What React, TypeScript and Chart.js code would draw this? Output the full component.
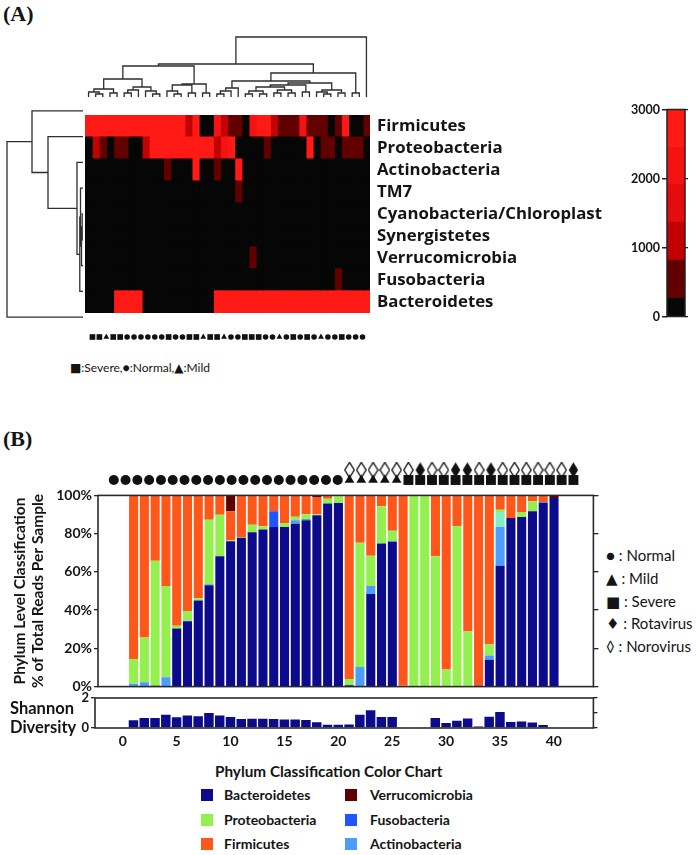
import React, { useEffect, useRef } from "react";
import { Chart, registerables } from "chart.js";

Chart.register(...registerables);

const SANS = "Lato, 'Open Sans', 'DejaVu Sans', sans-serif";
const WIDE = "'Open Sans', Lato, 'DejaVu Sans', sans-serif";
const SERIF = "'Liberation Serif', 'DejaVu Serif', serif";
const INK = "#141414";
Chart.defaults.font.family = SANS;
Chart.defaults.color = INK;

// ======================= Panel A data =======================
const HEAT_PHYLA = ["Firmicutes", "Proteobacteria", "Actinobacteria", "TM7", "Cyanobacteria/Chloroplast", "Synergistetes", "Verrucomicrobia", "Fusobacteria", "Bacteroidetes"];
const HEAT_COLUMNS = [1, 2, 3, 4, 5, 6, 7, 8, 9, 10, 11, 12, 13, 14, 15, 16, 17, 18, 19, 20, 21, 22, 23, 24, 25, 26, 27, 28, 29, 30, 31, 32, 33, 34, 35, 36, 37, 38, 39, 40];

const READS_FIRMICUTES = [2700, 2700, 2700, 2700, 2700, 2700, 2700, 2700, 2700, 2700, 2700, 2700, 2700, 2700, 1100, 2700, 50, 50, 2100, 1100, 500, 500, 50, 2100, 2700, 2700, 1100, 500, 500, 500, 2100, 500, 500, 500, 50, 500, 2700, 50, 50, 500];
const READS_PROTEOBACTERIA = [50, 1100, 700, 50, 500, 500, 50, 50, 1100, 2700, 2700, 2700, 2700, 2700, 2700, 2700, 2700, 2700, 1100, 2100, 2700, 50, 50, 50, 50, 500, 50, 50, 50, 50, 50, 2700, 50, 500, 500, 50, 500, 500, 500, 50];
const READS_ACTINOBACTERIA = [0, 0, 0, 0, 0, 0, 0, 0, 0, 0, 0, 500, 0, 0, 0, 2700, 0, 0, 500, 0, 0, 2700, 0, 0, 0, 0, 0, 0, 0, 0, 0, 0, 0, 0, 0, 0, 0, 0, 0, 0];
const READS_TM7 = [0, 0, 0, 0, 0, 0, 0, 0, 0, 0, 0, 0, 0, 0, 0, 0, 0, 0, 0, 0, 0, 500, 0, 0, 0, 0, 0, 0, 0, 0, 0, 0, 0, 0, 0, 0, 0, 0, 0, 0];
const READS_CYANOBACTERIA = [0, 0, 0, 0, 0, 0, 0, 0, 0, 0, 0, 0, 0, 0, 0, 0, 0, 0, 0, 0, 0, 0, 0, 0, 0, 0, 0, 0, 0, 0, 0, 0, 0, 0, 0, 0, 0, 0, 0, 0];
const READS_SYNERGISTETES = [0, 0, 0, 0, 0, 0, 0, 0, 0, 0, 0, 0, 0, 0, 0, 0, 0, 0, 0, 0, 0, 0, 0, 0, 0, 0, 0, 0, 0, 0, 0, 0, 0, 0, 0, 0, 0, 0, 0, 0];
const READS_VERRUCOMICROBIA = [0, 0, 0, 0, 0, 0, 0, 0, 0, 0, 0, 0, 0, 0, 0, 0, 0, 0, 0, 0, 0, 0, 0, 500, 0, 0, 0, 0, 0, 0, 0, 0, 0, 0, 0, 0, 0, 0, 0, 0];
const READS_FUSOBACTERIA = [0, 0, 0, 0, 0, 0, 0, 0, 0, 0, 0, 0, 0, 0, 0, 0, 0, 0, 0, 0, 0, 0, 0, 0, 0, 0, 0, 0, 0, 0, 0, 0, 0, 0, 0, 500, 0, 0, 0, 0];
const READS_BACTEROIDETES = [0, 0, 0, 0, 2700, 2700, 2700, 2700, 0, 0, 0, 0, 0, 0, 0, 0, 0, 0, 2700, 2700, 2700, 2700, 2700, 2700, 2700, 2700, 2700, 2700, 2700, 2700, 2700, 2700, 2700, 2700, 2700, 2700, 2700, 2700, 2700, 2700];

const HEAT_ROWS = [READS_FIRMICUTES, READS_PROTEOBACTERIA, READS_ACTINOBACTERIA, READS_TM7, READS_CYANOBACTERIA, READS_SYNERGISTETES, READS_VERRUCOMICROBIA, READS_FUSOBACTERIA, READS_BACTEROIDETES];

const COLORBAR_STEPS = [0, 264, 816, 1368, 1920, 2448, 3000];
const COLORBAR_COLORS = ["#060606", "#620000", "#c20202", "#e40c0c", "#f51212", "#ff1a16"];
const COLORBAR_TICK_STEP = 1000;

// S = Severe, N = Normal, M = Mild
const SEVERITY_A = ["S", "S", "M", "S", "S", "N", "N", "N", "N", "N", "N", "S", "N", "N", "S", "S", "M", "S", "S", "M", "N", "N", "S", "S", "S", "N", "N", "M", "N", "S", "N", "S", "N", "M", "N", "N", "S", "N", "N", "N"];

// dendrogram merges: [left, right, height]; leaves are column numbers (1..40) / row indices (0..8); merge k is id 100+k
const TOP_TREE: [number, number, number][] = [
  [2, 3, 3], [1, 100, 5], [4, 5, 4], [101, 102, 8],
  [6, 7, 4], [104, 8, 7], [10, 11, 3], [9, 106, 6], [105, 107, 10], [103, 108, 18],
  [13, 14, 3], [12, 110, 6], [15, 16, 4], [111, 112, 12], [17, 18, 4], [113, 114, 13], [109, 115, 31],
  [19, 20, 3], [117, 21, 6], [118, 22, 9],
  [23, 24, 3], [25, 26, 3], [120, 121, 6], [27, 28, 4], [29, 30, 4], [123, 124, 7], [122, 125, 10],
  [31, 32, 5], [126, 127, 12], [34, 35, 3], [33, 129, 5], [36, 37, 4], [130, 131, 7], [128, 132, 14],
  [119, 133, 16], [38, 39, 4], [134, 135, 24], [116, 136, 33], [137, 40, 60],
];
const LEFT_TREE: [number, number, number][] = [
  [4, 5, 0.8], [100, 6, 1.5], [3, 101, 2.5], [102, 7, 3.2], [2, 103, 6], [1, 104, 35], [0, 105, 51], [106, 8, 76],
];

// ======================= Panel B data =======================
const SAMPLE_IDS = [1, 2, 3, 4, 5, 6, 7, 8, 9, 10, 11, 12, 13, 14, 15, 16, 17, 18, 19, 20, 21, 22, 23, 24, 25, 26, 27, 28, 29, 30, 31, 32, 33, 34, 35, 36, 37, 38, 39, 40];
const BACTEROIDETES = [0, 0, 0.5, 0, 30.4, 34.2, 45, 53, 68.2, 76, 77.8, 80.7, 82.1, 83.5, 83.5, 85.2, 87, 89.6, 95.7, 96, 0.7, 0, 48.4, 74.8, 75.7, 0, 0, 0, 0.3, 0, 0, 0.3, 0.5, 14.1, 63.2, 88.2, 88.7, 91.7, 96.2, 98.6];
const FUSOBACTERIA = [0, 0, 0, 0, 0, 0, 0, 0, 0, 0, 0, 0, 0, 8.2, 0, 0, 0, 0, 0, 0, 0, 0, 0, 0, 0, 0, 0, 0, 0, 0, 0, 0, 0, 0, 0, 0, 0, 0, 0, 0];
const ACTINOBACTERIA = [1.5, 2.3, 0, 4.9, 0, 0.3, 0, 0.5, 0, 0, 0, 0, 0, 0, 0, 1.8, 0.7, 0, 0, 0, 0, 10.2, 4.2, 0, 0.4, 0, 0, 0, 0, 0, 0, 0, 0, 2.2, 20.3, 0, 0, 0, 0.4, 0];
const OTHER = [0, 0, 0, 0, 0, 0, 0, 0, 0, 0, 0, 0, 0, 0, 0, 0, 0, 0, 0, 0, 0, 0, 0, 0, 0, 0, 0, 0, 0, 0, 0, 0, 0, 0, 7.8, 0, 0, 0, 0, 0];
const PROTEOBACTERIA = [13, 23.4, 65.3, 47.7, 1.4, 5, 1.2, 33.8, 21.7, 0.6, 0.4, 4, 1.8, 0, 2.1, 1.8, 2.4, 0.5, 2.6, 3.5, 3.3, 65.1, 15.8, 19.5, 5.4, 0.5, 100, 100, 67.9, 8.9, 84, 28.5, 0, 5.9, 1.2, 0, 2.6, 5.2, 0, 0];
const FIRMICUTES = [85.5, 74.3, 34.2, 47.4, 68.2, 60.5, 53.8, 12.7, 10.1, 15.1, 21.8, 15.3, 16.1, 8.3, 14.4, 11.2, 9.9, 9, 1.7, 0.5, 96, 24.7, 31.6, 5.7, 18.5, 99.5, 0, 0, 31.8, 91.1, 16, 71.2, 99.5, 77.8, 7.5, 11.8, 8.7, 3.1, 3.4, 0];
const VERRUCOMICROBIA = [0, 0, 0, 0, 0, 0, 0, 0, 0, 8.3, 0, 0, 0, 0, 0, 0, 0, 0.9, 0, 0, 0, 0, 0, 0, 0, 0, 0, 0, 0, 0, 0, 0, 0, 0, 0, 0, 0, 0, 0, 1.4];
const SHANNON = [0.51, 0.67, 0.67, 0.89, 0.71, 0.84, 0.78, 1.0, 0.84, 0.73, 0.6, 0.62, 0.62, 0.6, 0.56, 0.56, 0.53, 0.38, 0.22, 0.22, 0.24, 0.89, 1.18, 0.73, 0.73, 0.05, 0.05, 0.05, 0.67, 0.33, 0.49, 0.64, 0.1, 0.75, 1.07, 0.4, 0.44, 0.36, 0.2, 0.05];
const SEVERITY_B = ["N", "N", "N", "N", "N", "N", "N", "N", "N", "N", "N", "N", "N", "N", "N", "N", "N", "N", "N", "N", "M", "M", "M", "M", "M", "S", "S", "S", "S", "S", "S", "S", "S", "S", "S", "S", "S", "S", "S", "S"];
// R = Rotavirus, V = Norovirus, "" = none
const VIRUS_B = ["", "", "", "", "", "", "", "", "", "", "", "", "", "", "", "", "", "", "", "", "V", "V", "V", "V", "V", "V", "R", "V", "V", "R", "R", "V", "R", "V", "V", "V", "V", "V", "V", "R"];

const SHANNON_TICK_STEP = 5;
const PCT_TICK_STEP = 20;

const COLORS: Record<string, string> = {
  Bacteroidetes: "#0b0b8c",
  Fusobacteria: "#1f55ff",
  Actinobacteria: "#4b9dff",
  Other: "#80f0c4",
  Proteobacteria: "#93f04f",
  Firmicutes: "#ff5619",
  Verrucomicrobia: "#5c0000",
};
const LEGEND_COL1 = ["Bacteroidetes", "Proteobacteria", "Firmicutes"];
const LEGEND_COL2 = ["Verrucomicrobia", "Fusobacteria", "Actinobacteria"];

// ======================= helpers =======================
type Box = { left: number; top: number; width: number; height: number };

const framePlugin = {
  id: "frame",
  afterDatasetsDraw(chart: any, _a: any, opts: any) {
    if (!opts || !opts.width) return;
    const { ctx, chartArea: a } = chart;
    ctx.save();
    ctx.strokeStyle = opts.color || "#222";
    ctx.lineWidth = opts.width;
    ctx.strokeRect(a.left, a.top, a.right - a.left, a.bottom - a.top);
    ctx.restore();
  },
};

const underlayPlugin = {
  id: "underlay",
  beforeDatasetsDraw(chart: any, _a: any, opts: any) {
    if (!opts || !opts.color) return;
    const { ctx, chartArea: a } = chart;
    ctx.save();
    ctx.fillStyle = opts.color;
    ctx.fillRect(a.left, a.top, a.right - a.left, a.bottom - a.top);
    ctx.restore();
  },
};

function heatColor(v: number) {
  for (let i = 0; i < COLORBAR_COLORS.length; i++) {
    if (v < COLORBAR_STEPS[i + 1]) return COLORBAR_COLORS[i];
  }
  return COLORBAR_COLORS[COLORBAR_COLORS.length - 1];
}

function treeSegments(merges: [number, number, number][]) {
  const pos = new Map<number, number>();
  const hgt = new Map<number, number>();
  const get = (id: number): [number, number] => (id >= 100 ? [pos.get(id)!, hgt.get(id)!] : [id, 0]);
  const segs: { p: number; h: number }[][] = [];
  merges.forEach(([a, b, h], k) => {
    const [pa, ha] = get(a);
    const [pb, hb] = get(b);
    segs.push([{ p: pa, h: ha }, { p: pa, h }, { p: pb, h }, { p: pb, h: hb }]);
    pos.set(100 + k, (pa + pb) / 2);
    hgt.set(100 + k, h);
  });
  return segs;
}

function diamondImage(filled: boolean) {
  const c = document.createElement("canvas");
  c.width = 11;
  c.height = 17;
  const g = c.getContext("2d")!;
  g.beginPath();
  g.moveTo(5.5, 0.8);
  g.lineTo(10.2, 8.5);
  g.lineTo(5.5, 16.2);
  g.lineTo(0.8, 8.5);
  g.closePath();
  if (filled) {
    g.fillStyle = "#111";
    g.fill();
  } else {
    g.fillStyle = "#fff";
    g.fill();
    g.strokeStyle = "#111";
    g.lineWidth = 1.3;
    g.stroke();
  }
  return c;
}

const shapeOf = (s: string) => (s === "N" ? "circle" : s === "M" ? "triangle" : "rect");

const baseOptions = () => ({
  animation: false,
  responsive: true,
  maintainAspectRatio: false,
  events: [],
  layout: { padding: 0 },
  plugins: { legend: { display: false }, tooltip: { enabled: false }, title: { display: false } },
});

function ChartCanvas({ box, build }: { box: Box; build: () => any }) {
  const ref = useRef<HTMLCanvasElement | null>(null);
  useEffect(() => {
    if (!ref.current) return;
    const chart = new Chart(ref.current, build());
    return () => chart.destroy();
  }, []);
  return (
    <div style={{ position: "absolute", left: box.left, top: box.top, width: box.width, height: box.height }}>
      <canvas ref={ref} />
    </div>
  );
}

function Txt(props: { x: number; y: number; size: number; weight?: number; family?: string; children: any; style?: any }) {
  return (
    <div
      style={{
        position: "absolute",
        left: props.x,
        top: props.y,
        fontSize: props.size,
        fontWeight: props.weight ?? 400,
        fontFamily: props.family ?? SANS,
        lineHeight: 1,
        whiteSpace: "nowrap",
        color: INK,
        ...(props.style || {}),
      }}
    >
      {props.children}
    </div>
  );
}

// ======================= chart configs =======================
const LINE = "#2e2e2e";

function topTreeConfig() {
  const segs = treeSegments(TOP_TREE);
  return {
    type: "scatter",
    data: {
      datasets: segs.map((s) => ({
        data: s.map((q) => ({ x: q.p, y: q.h })),
        showLine: true,
        borderColor: LINE,
        borderWidth: 1.3,
        pointRadius: 0,
        clip: false,
      })),
    },
    options: {
      ...baseOptions(),
      scales: {
        x: { type: "linear", min: 0.5, max: HEAT_COLUMNS.length + 0.5, display: false },
        y: { type: "linear", min: 0, max: 64, display: false },
      },
    },
  };
}

function leftTreeConfig() {
  const segs = treeSegments(LEFT_TREE);
  return {
    type: "scatter",
    data: {
      datasets: segs.map((s) => ({
        data: s.map((q) => ({ x: q.h, y: q.p })),
        showLine: true,
        borderColor: LINE,
        borderWidth: 1.3,
        pointRadius: 0,
        clip: false,
      })),
    },
    options: {
      ...baseOptions(),
      scales: {
        x: { type: "linear", min: 0, max: 83, reverse: true, display: false },
        y: { type: "linear", min: -0.5, max: HEAT_PHYLA.length - 0.5, reverse: true, display: false },
      },
    },
  };
}

function heatmapConfig() {
  return {
    type: "bar",
    data: {
      labels: HEAT_PHYLA,
      datasets: HEAT_COLUMNS.map((_c, ci) => ({
        data: HEAT_PHYLA.map(() => 1),
        backgroundColor: HEAT_ROWS.map((row) => heatColor(row[ci])),
        borderWidth: 0,
        barPercentage: 1,
        categoryPercentage: 1,
        inflateAmount: 0.6,
      })),
    },
    options: {
      ...baseOptions(),
      indexAxis: "y",
      plugins: { ...baseOptions().plugins, underlay: { color: "#060606" } },
      scales: {
        x: { stacked: true, min: 0, max: HEAT_COLUMNS.length, display: false },
        y: {
          stacked: true,
          position: "right",
          grid: { display: false, drawTicks: false },
          border: { display: false },
          ticks: { color: INK, font: { family: WIDE, size: 16.8, weight: "bold" }, padding: 7 },
          afterFit: (s: any) => {
            s.width = 250;
          },
        },
      },
    },
    plugins: [underlayPlugin],
  };
}

function colorbarConfig() {
  return {
    type: "bar",
    data: {
      labels: ["reads"],
      datasets: COLORBAR_COLORS.map((c, i) => ({
        data: [COLORBAR_STEPS[i + 1] - COLORBAR_STEPS[i]],
        backgroundColor: c,
        barPercentage: 1,
        categoryPercentage: 1,
        borderWidth: 0,
      })),
    },
    options: {
      ...baseOptions(),
      layout: { padding: { top: 8, bottom: 8 } },
      plugins: { ...baseOptions().plugins, frame: { width: 1.5, color: "#222" } },
      scales: {
        x: { stacked: true, display: false },
        y: {
          stacked: true,
          min: 0,
          max: COLORBAR_STEPS[COLORBAR_STEPS.length - 1],
          ticks: {
            stepSize: COLORBAR_TICK_STEP,
            callback: (v: any) => String(v),
            color: INK,
            font: { family: SANS, size: 12.5, weight: "bold" },
            padding: 2,
          },
          grid: { drawOnChartArea: false, drawTicks: true, tickLength: 5, color: "#222", lineWidth: 1.5 },
          border: { display: false },
          afterFit: (s: any) => {
            s.width = 47;
          },
        },
        y2: {
          position: "right",
          min: 0,
          max: COLORBAR_STEPS[COLORBAR_STEPS.length - 1],
          ticks: { display: false, stepSize: COLORBAR_TICK_STEP },
          grid: { drawOnChartArea: false, drawTicks: true, tickLength: 3, color: "#222", lineWidth: 1.3 },
          border: { display: false },
          afterFit: (s: any) => {
            s.width = 5;
          },
        },
      },
    },
    plugins: [framePlugin],
  };
}

function severityRowAConfig() {
  return {
    type: "scatter",
    data: {
      datasets: [
        {
          data: HEAT_COLUMNS.map((c) => ({ x: c, y: "Severity" })),
          pointStyle: SEVERITY_A.map(shapeOf),
          pointRadius: SEVERITY_A.map((s) => (s === "N" ? 2.8 : s === "M" ? 3.4 : 4)),
          backgroundColor: "#111",
          borderWidth: 0,
          clip: false,
        },
      ],
    },
    options: {
      ...baseOptions(),
      scales: {
        x: { type: "linear", min: 0.5, max: HEAT_COLUMNS.length + 0.5, display: false },
        y: { type: "category", labels: ["Severity"], offset: true, display: false },
      },
    },
  };
}

const nz = (v: number) => (v === 0 ? null : v);
const seriesOf = (vals: number[]) => SAMPLE_IDS.map((x, i) => ({ x, y: nz(vals[i]) }));

function compositionConfig() {
  const stack: [string, number[]][] = [
    ["Bacteroidetes", BACTEROIDETES],
    ["Fusobacteria", FUSOBACTERIA],
    ["Actinobacteria", ACTINOBACTERIA],
    ["Other", OTHER],
    ["Proteobacteria", PROTEOBACTERIA],
    ["Firmicutes", FIRMICUTES],
    ["Verrucomicrobia", VERRUCOMICROBIA],
  ];
  return {
    type: "bar",
    data: {
      datasets: stack.map(([name, vals]) => ({
        label: name,
        data: seriesOf(vals),
        backgroundColor: COLORS[name],
        borderWidth: 0,
        barPercentage: 0.84,
        categoryPercentage: 1,
      })),
    },
    options: {
      ...baseOptions(),
      layout: { padding: { top: 10, bottom: 10 } },
      plugins: { ...baseOptions().plugins, frame: { width: 1.6, color: "#2a2a2a" } },
      scales: {
        x: { type: "linear", stacked: true, min: 0.25, max: 41.1, display: false },
        y: {
          stacked: true,
          min: 0,
          max: 100,
          ticks: {
            stepSize: PCT_TICK_STEP,
            callback: (v: any) => v + "%",
            color: INK,
            font: { family: SANS, size: 14, weight: "bold" },
            padding: 2,
          },
          grid: { drawOnChartArea: false, drawTicks: true, tickLength: 4, color: "#222", lineWidth: 1.3 },
          border: { display: false },
          title: {
            display: true,
            text: ["Phylum Level Classification", "% of Total Reads Per Sample"],
            color: INK,
            font: { family: SANS, size: 15.5, weight: "bold", lineHeight: 1.15 },
            padding: { top: 11, bottom: 0 },
          },
          afterFit: (s: any) => {
            s.width = 98;
          },
        },
        y2: {
          position: "right",
          min: 0,
          max: 100,
          ticks: { display: false, stepSize: PCT_TICK_STEP },
          grid: { drawOnChartArea: false, drawTicks: true, tickLength: 5, color: "#222", lineWidth: 1.3 },
          border: { display: false },
          afterFit: (s: any) => {
            s.width = 8.6;
          },
        },
      },
    },
    plugins: [framePlugin],
  };
}

function shannonConfig() {
  return {
    type: "bar",
    data: {
      datasets: [
        {
          label: "Shannon Diversity",
          data: seriesOf(SHANNON),
          backgroundColor: COLORS.Bacteroidetes,
          borderWidth: 0,
          barPercentage: 0.88,
          categoryPercentage: 1,
        },
      ],
    },
    options: {
      ...baseOptions(),
      layout: { padding: { top: 10 } },
      plugins: { ...baseOptions().plugins, frame: { width: 1.6, color: "#2a2a2a" } },
      scales: {
        x: {
          type: "linear",
          min: 0,
          max: 41.1,
          ticks: {
            stepSize: SHANNON_TICK_STEP,
            includeBounds: false,
            autoSkip: false,
            maxRotation: 0,
            color: INK,
            font: { family: SANS, size: 14, weight: "bold" },
            padding: 5,
          },
          grid: { display: false, drawTicks: false },
          border: { display: false },
          afterFit: (s: any) => {
            s.height = 22;
          },
        },
        y: {
          min: 0,
          max: 2,
          ticks: { stepSize: 1, color: INK, font: { family: SANS, size: 13, weight: "bold" }, padding: 2 },
          grid: { drawOnChartArea: false, drawTicks: true, tickLength: 4, color: "#222", lineWidth: 1.3 },
          border: { display: false },
          afterFit: (s: any) => {
            s.width = 35;
          },
        },
        y2: {
          position: "right",
          min: 0,
          max: 2,
          ticks: { display: false, stepSize: 1 },
          grid: { drawOnChartArea: false, drawTicks: true, tickLength: 4, color: "#222", lineWidth: 1.3 },
          border: { display: false },
          afterFit: (s: any) => {
            s.width = 8.6;
          },
        },
      },
    },
    plugins: [framePlugin],
  };
}

function symbolsBConfig() {
  const openD = diamondImage(false);
  const fillD = diamondImage(true);
  const virusIdx = SAMPLE_IDS.filter((_x, i) => VIRUS_B[i] !== "");
  const virusKinds = VIRUS_B.filter((v) => v !== "");
  return {
    type: "scatter",
    data: {
      datasets: [
        {
          data: SAMPLE_IDS.map((x) => ({ x, y: "Severity" })),
          pointStyle: SEVERITY_B.map(shapeOf),
          pointRadius: SEVERITY_B.map((s) => (s === "N" ? 5 : s === "M" ? 5.6 : 7)),
          backgroundColor: "#111",
          borderWidth: 0,
          clip: false,
        },
        {
          data: virusIdx.map((x) => ({ x, y: "Virus" })),
          pointStyle: virusKinds.map((v) => (v === "R" ? fillD : openD)),
          pointRadius: 6,
          clip: false,
        },
      ],
    },
    options: {
      ...baseOptions(),
      scales: {
        x: { type: "linear", min: 0, max: 41.1, display: false },
        y: { type: "category", labels: ["Virus", "Severity"], offset: true, display: false },
      },
    },
  };
}

// ======================= layout =======================
export default function App() {
  return (
    <div style={{ position: "absolute", left: 0, top: 0, width: 697, height: 855, background: "#fff", overflow: "hidden" }}>
      <Txt x={3} y={3} size={22} weight={700} family={SERIF}>(A)</Txt>

      <ChartCanvas box={{ left: 85, top: 33, width: 285, height: 64 }} build={topTreeConfig} />
      <ChartCanvas box={{ left: 0, top: 98, width: 83, height: 232 }} build={leftTreeConfig} />
      <ChartCanvas box={{ left: 85, top: 98, width: 535, height: 232 }} build={heatmapConfig} />
      <ChartCanvas box={{ left: 620, top: 100, width: 70, height: 226 }} build={colorbarConfig} />
      <ChartCanvas box={{ left: 85, top: 331, width: 285, height: 12 }} build={severityRowAConfig} />

      <Txt x={70} y={362} size={12}>■:Severe,●:Normal,▲:Mild</Txt>

      <Txt x={3} y={428} size={22} weight={700} family={SERIF}>(B)</Txt>

      <ChartCanvas box={{ left: 95, top: 458, width: 498.4, height: 34 }} build={symbolsBConfig} />
      <ChartCanvas box={{ left: 0, top: 485, width: 602, height: 212 }} build={compositionConfig} />
      <ChartCanvas box={{ left: 60, top: 688, width: 542, height: 62 }} build={shannonConfig} />

      <Txt x={10} y={700} size={16.5} weight={700}>Shannon</Txt>
      <Txt x={10} y={719} size={16.5} weight={700}>Diversity</Txt>

      <Txt x={606} y={548} size={15}>● : Normal</Txt>
      <Txt x={606} y={571} size={15}>▲ : Mild</Txt>
      <Txt x={606} y={594} size={15}>■ : Severe</Txt>
      <Txt x={606} y={616} size={15}>♦ : Rotavirus</Txt>
      <Txt x={606} y={639} size={15}>◊ : Norovirus</Txt>

      <Txt x={215} y={764} size={15.3} weight={700}>Phylum Classification Color Chart</Txt>
      {LEGEND_COL1.map((name, i) => (
        <React.Fragment key={name}>
          <div style={{ position: "absolute", left: 201, top: 789 + i * 24.5, width: 12, height: 12, background: COLORS[name] }} />
          <Txt x={224} y={788 + i * 24.5} size={14} weight={700}>{name}</Txt>
        </React.Fragment>
      ))}
      {LEGEND_COL2.map((name, i) => (
        <React.Fragment key={name}>
          <div style={{ position: "absolute", left: 345, top: 789 + i * 24.5, width: 12, height: 12, background: COLORS[name] }} />
          <Txt x={370} y={788 + i * 24.5} size={14} weight={700}>{name}</Txt>
        </React.Fragment>
      ))}
    </div>
  );
}
